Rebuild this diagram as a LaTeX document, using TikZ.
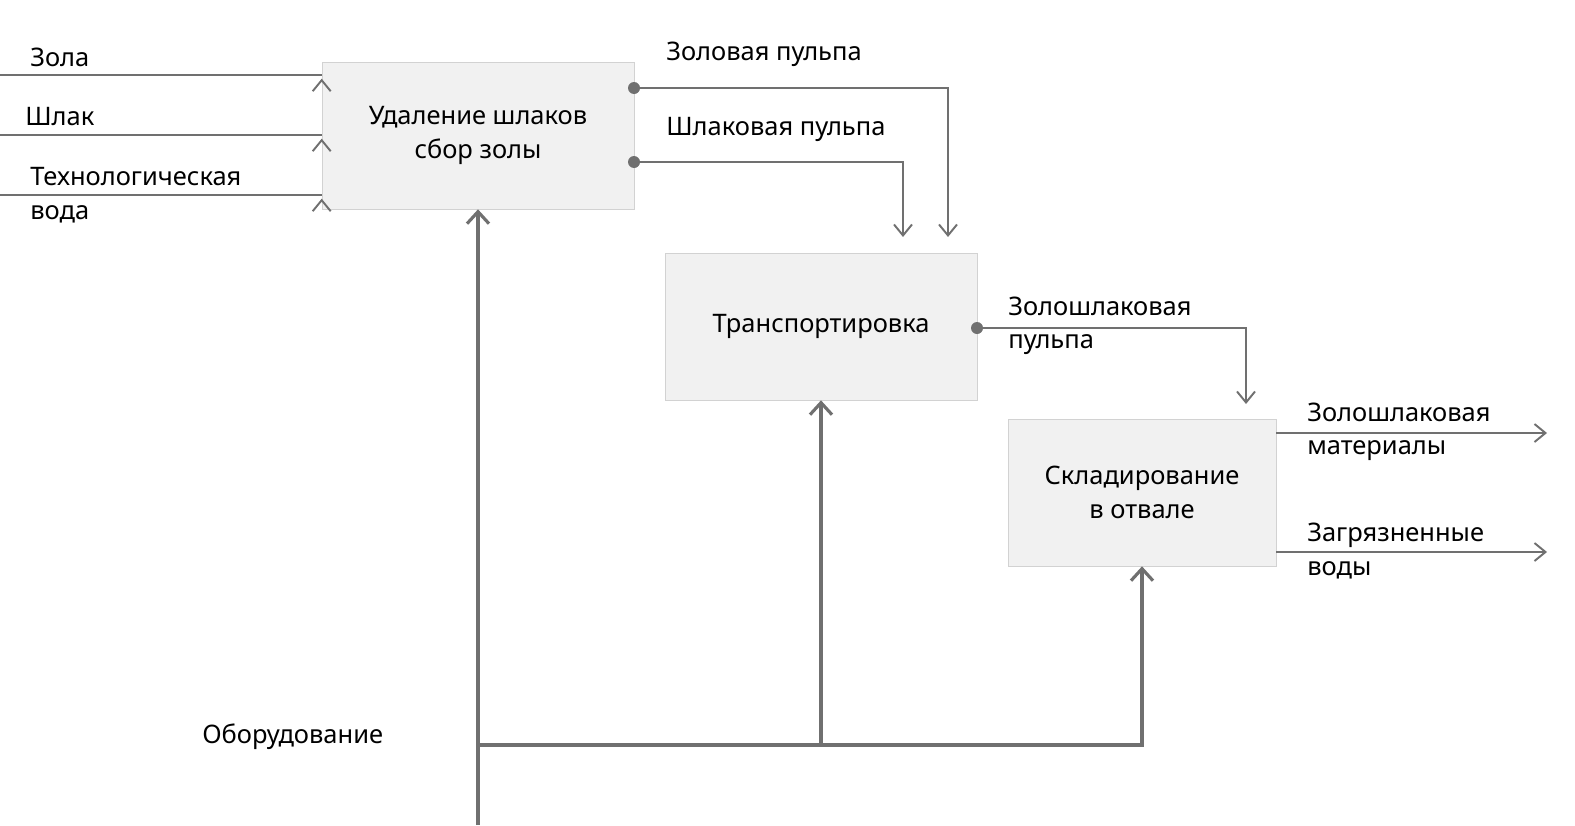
\documentclass[tikz,border=0pt]{standalone}
\usepackage{fontspec}
\setmainfont{Noto Sans}
\usetikzlibrary{arrows.meta,calc}
\definecolor{linegray}{HTML}{707070}
\definecolor{boxfill}{HTML}{F1F1F1}
\definecolor{boxline}{HTML}{D2D2D2}
\begin{document}
\begin{tikzpicture}[
        x=0.02cm, y=-0.02cm,
        font=\fontsize{14.5}{19}\selectfont,
        flow/.style={draw=linegray, line width=1.1pt, -{Straight Barb[length=2.2mm,width=3.6mm]}},
        feed/.style={draw=linegray, line width=1.8pt, -{Straight Barb[length=2.4mm,width=4.4mm]}},
        lbl/.style={anchor=west, align=left, inner sep=0pt}
    ]
    \tikzset{
        procbox/.style = {rectangle, draw=boxline, fill=boxfill, align=center, minimum width=6.24cm, minimum height=2.94cm},
        dot/.style = {circle, fill=linegray, inner sep=0pt, minimum size=2.4mm},
    }
    \useasboundingbox (0,0) rectangle (1575,825);
    % process boxes
    \node[procbox] (udal) at (478,135.5) {Удаление шлаков\\сбор золы};
    \node[procbox] (trans) at (821,326.5) {Транспортировка};
    \node[procbox, minimum width=5.36cm] (sklad) at (1142,492.5) {Складирование\\в отвале};
    % inputs
    \coordinate (zola) at (0,75);
    \coordinate (shlak) at (0,135);
    \coordinate (voda) at (0,195);
    \foreach \c in {zola,shlak,voda}
        \draw[flow, shorten >=7pt*0.3] (\c) -- (\c -| udal.west) ++(0,0);
    \node[lbl] at (30,57) {Зола};
    \node[lbl] at (25,117) {Шлак};
    \node[lbl] at (30,195) {Технологическая\\вода};
    % outputs of first box
    \node[dot] (zp) at (634,88) {};
    \node[dot] (sp) at (634,162) {};
    \draw[flow] (zp.center) -| (948,237);
    \draw[flow] (sp.center) -| (903,237);
    \node[lbl] at (666,54) {Золовая пульпа};
    \node[lbl] at (666,129) {Шлаковая пульпа};
    % output of second box
    \node[dot] (zsp) at (977,328) {};
    \draw[flow] (zsp.center) -| (1246,404);
    \node[lbl] at (1008,326) {Золошлаковая\\пульпа};
    % outputs of third box
    \coordinate (mat) at (sklad.east |- 0,433);
    \coordinate (vody) at (sklad.east |- 0,552);
    \draw[flow] (mat) -- (1547,433);
    \draw[flow] (vody) -- (1547,552);
    \node[lbl] at (1307,432) {Золошлаковая\\материалы};
    \node[lbl] at (1307,551) {Загрязненные\\воды};
    % equipment
    \coordinate (obor) at (478,825);
    \coordinate (fork) at (478,745);
    \draw[feed] (obor) -- (udal.south);
    \draw[feed] (fork) -| (sklad.south);
    \draw[feed] (821,745) -- (trans.south);
    \node[lbl] at (202,737) {Оборудование};
\end{tikzpicture}
\end{document}
